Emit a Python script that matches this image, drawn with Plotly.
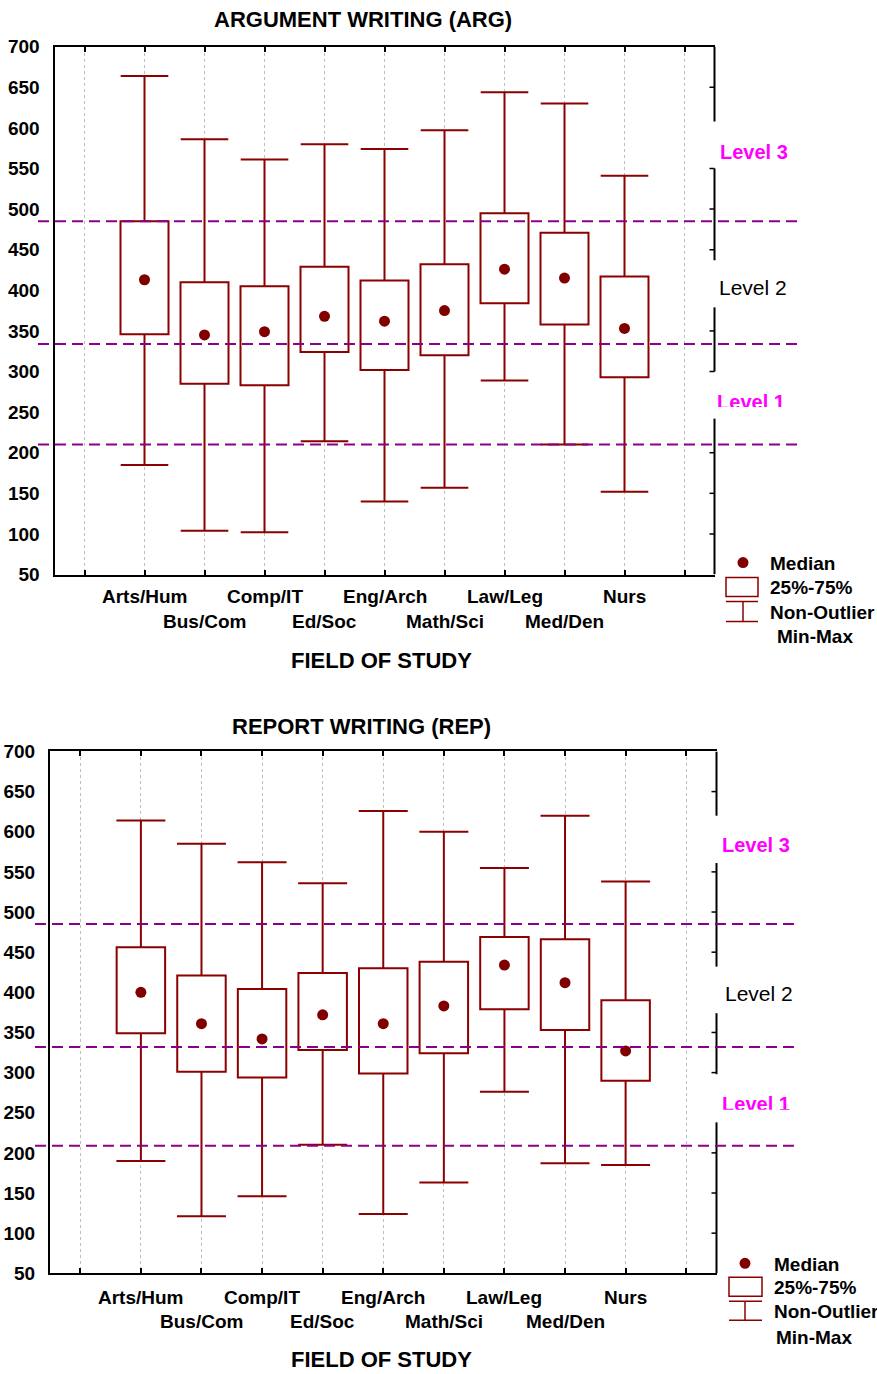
import plotly.graph_objects as go

W, H = 877, 1374

# ---- data -------------------------------------------------------------
fields = ["Arts/Hum", "Bus/Com", "Comp/IT", "Ed/Soc", "Eng/Arch",
          "Math/Sci", "Law/Leg", "Med/Den", "Nurs"]

# Argument writing (ARG)
arg_min = [185, 104, 102, 214, 140, 157, 289, 210, 152]
arg_q1 = [346, 285, 283, 324, 302, 320, 384, 358, 293]
arg_median = [413, 345, 349, 368, 362, 375, 426, 415, 353]
arg_q3 = [485, 410, 405, 429, 412, 432, 495, 471, 417]
arg_max = [664, 586, 561, 580, 574, 597, 644, 630, 541]

# Report writing (REP)
rep_min = [190, 121, 146, 210, 124, 163, 276, 187, 185]
rep_q1 = [349, 301, 294, 328, 299, 324, 379, 353, 290]
rep_median = [400, 361, 342, 372, 361, 383, 434, 412, 327]
rep_q3 = [456, 421, 404, 424, 430, 438, 469, 466, 390]
rep_max = [614, 585, 562, 536, 626, 600, 555, 620, 538]

# Proficiency level cut scores
level_names = ["Level 1", "Level 2", "Level 3"]
arg_levels = [210, 334, 485]
rep_levels = [209, 332, 485]

y_ticks = list(range(50, 701, 50))
legend_labels = ["Median", "25%-75%", "Non-Outlier", "Min-Max"]

# ---- styling ----------------------------------------------------------
RED = "#8B0000"
DOT = "#800000"
PURPLE = "#8B008B"
MAGENTA = "#FF00FF"
FONT = "Liberation Sans, Arial, sans-serif"

# vertical placement helper (page rows -> paper fraction)
V_OFF, V_SCALE = 10.3, 1.0152


def fx(px):
    return px / W


def fy(py):
    return 1 - (py - V_OFF) * V_SCALE / H


positions = [i + 1 for i in range(len(fields))]

panels = [
    dict(key="", title="ARGUMENT WRITING (ARG)",
         lo=arg_min, q1=arg_q1, med=arg_median, q3=arg_q3, hi=arg_max,
         levels=arg_levels,
         xdom=(54.5, 714.5), ydom=(47, 575), title_pos=(363, 20),
         cat_rows=(597, 622), xlab_pos=(381, 661),
         level_pos=[(751, 404), (753, 288), (754, 152)], clip_level1=407.5,
         dash_x=(38, 799), cap=34,
         segments=[(700, 608), (550, 437), (379, 300), (242, 50)],
         legend=dict(dot=(743, 563), box=(726, 758, 578, 597),
                     whisk=(743, 602, 622), tx=768, tx2=775,
                     ty=[564, 588, 613, 637])),
    dict(key="2", title="REPORT WRITING (REP)",
         lo=rep_min, q1=rep_q1, med=rep_median, q3=rep_q3, hi=rep_max,
         levels=rep_levels,
         xdom=(50, 716.5), ydom=(752, 1274), title_pos=(361, 727),
         cat_rows=(1298, 1322), xlab_pos=(381, 1360),
         level_pos=[(756, 1107), (759, 994), (756, 846)], clip_level1=1110.5,
         dash_x=(35, 797), cap=35,
         segments=[(700, 620), (561, 432), (374, 298), (238, 50)],
         legend=dict(dot=(745, 1264), box=(729, 762, 1278, 1297),
                     whisk=(745, 1302, 1321), tx=772, tx2=774,
                     ty=[1265, 1288, 1312, 1338])),
]

fig = go.Figure()
shapes = []
annotations = []
layout_axes = {}

for n, p in enumerate(panels):
    xa, ya = "x" + p["key"], "y" + p["key"]
    xname, yname = "xaxis" + p["key"], "yaxis" + p["key"]

    # 25%-75% boxes
    fig.add_trace(go.Bar(
        x=positions, y=[b - a for a, b in zip(p["q1"], p["q3"])], base=p["q1"],
        width=0.8, marker=dict(color="white", line=dict(color=RED, width=2)),
        xaxis=xa, yaxis=ya, showlegend=False, hoverinfo="skip"))

    # whiskers from box edges to non-outlier min / max
    wx, wy = [], []
    for x, lo, a, b, hi in zip(positions, p["lo"], p["q1"], p["q3"], p["hi"]):
        wx += [x, x, None, x, x, None]
        wy += [b, hi, None, a, lo, None]
    fig.add_trace(go.Scatter(
        x=wx, y=wy, mode="lines", line=dict(color=RED, width=2),
        xaxis=xa, yaxis=ya, showlegend=False, hoverinfo="skip"))

    # whisker caps
    fig.add_trace(go.Scatter(
        x=positions + positions, y=p["lo"] + p["hi"], mode="markers",
        marker=dict(symbol="line-ew", size=p["cap"],
                    line=dict(color=RED, width=2)),
        xaxis=xa, yaxis=ya, showlegend=False, hoverinfo="skip"))

    # medians
    fig.add_trace(go.Scatter(
        x=positions, y=p["med"], mode="markers",
        marker=dict(symbol="circle", size=11, color=DOT),
        xaxis=xa, yaxis=ya, showlegend=False, hoverinfo="skip"))

    x0d, x1d = fx(p["xdom"][0]), fx(p["xdom"][1])
    layout_axes[xname] = dict(
        domain=[x0d, x1d], range=[-0.5, 10.5], anchor=ya,
        tickmode="array", tickvals=list(range(11)), showticklabels=False,
        ticks="inside", ticklen=5, tickwidth=1.5, tickcolor="black",
        showline=True, linecolor="black", linewidth=2, mirror="ticks",
        showgrid=True, gridcolor="#BDBDBD", gridwidth=1, griddash="dot",
        zeroline=False, fixedrange=True)
    layout_axes[yname] = dict(
        domain=[fy(p["ydom"][1]), fy(p["ydom"][0])], range=[50, 700],
        anchor=xa, tickmode="array", tickvals=y_ticks,
        ticktext=[str(v) for v in y_ticks],
        tickfont=dict(family=FONT, size=19, color="black", weight="bold"),
        ticks="", ticklabelstandoff=9,
        showline=True, linecolor="black", linewidth=2, mirror=False,
        showgrid=False, zeroline=False, fixedrange=True)

    # broken right-hand border with inward ticks
    for top, bot in p["segments"]:
        shapes.append(dict(type="line", xref="paper", yref=ya,
                           x0=x1d, x1=x1d, y0=bot, y1=top,
                           line=dict(color="black", width=2)))
        for v in y_ticks:
            if bot <= v <= top and 50 < v < 700:
                shapes.append(dict(type="line", xref="paper", yref=ya,
                                   x0=x1d - fx(5), x1=x1d, y0=v, y1=v,
                                   line=dict(color="black", width=1.5)))

    # level cut-score lines
    for lv in p["levels"]:
        shapes.append(dict(type="line", xref="paper", yref=ya,
                           x0=fx(p["dash_x"][0]), x1=fx(p["dash_x"][1]),
                           y0=lv, y1=lv, layer="above",
                           line=dict(color=PURPLE, width=2, dash="11px,6px")))

    # level labels (Level 2 plain black, Level 3 bold magenta)
    for i, name in enumerate(level_names):
        if i == 0:
            continue
        lx, ly = p["level_pos"][i]
        bold = i == 2
        annotations.append(dict(
            text=name, x=fx(lx), y=fy(ly), xref="paper", yref="paper",
            xanchor="center", yanchor="middle", showarrow=False,
            font=dict(family=FONT, size=21 if not bold else 20,
                      color=MAGENTA if bold else "black",
                      weight="bold" if bold else "normal")))

    # Level 1 label sits in its own small clipped subplot
    cx, cy = p["level_pos"][0]
    cut = p["clip_level1"]
    k3 = str(3 + n)
    layout_axes["xaxis" + k3] = dict(domain=[fx(716), fx(800)], range=[716, 800],
                                     visible=False, anchor="y" + k3, fixedrange=True)
    layout_axes["yaxis" + k3] = dict(domain=[fy(cut), fy(cut - 30)],
                                     range=[-cut, -(cut - 30)],
                                     visible=False, anchor="x" + k3, fixedrange=True)
    fig.add_trace(go.Scatter(
        x=[cx], y=[-cy], mode="text", text=[level_names[0]],
        textposition="middle center", cliponaxis=True,
        textfont=dict(family=FONT, size=20, color=MAGENTA, weight="bold"),
        xaxis="x" + k3, yaxis="y" + k3, showlegend=False, hoverinfo="skip"))

    # panel title and x axis title
    annotations.append(dict(
        text=p["title"], x=fx(p["title_pos"][0]), y=fy(p["title_pos"][1]),
        xref="paper", yref="paper", xanchor="center", yanchor="middle",
        showarrow=False,
        font=dict(family=FONT, size=22, color="black", weight="bold")))
    annotations.append(dict(
        text="FIELD OF STUDY", x=fx(p["xlab_pos"][0]), y=fy(p["xlab_pos"][1]),
        xref="paper", yref="paper", xanchor="center", yanchor="middle",
        showarrow=False,
        font=dict(family=FONT, size=22, color="black", weight="bold")))

    # staggered category labels
    for i, (x, name) in enumerate(zip(positions, fields)):
        annotations.append(dict(
            text=name, x=x, y=fy(p["cat_rows"][i % 2]), xref=xa, yref="paper",
            xanchor="center", yanchor="middle", showarrow=False,
            font=dict(family=FONT, size=19, color="black", weight="bold")))

    # key
    lg = p["legend"]
    dx, dy = lg["dot"]
    shapes.append(dict(type="circle", xref="paper", yref="paper",
                       x0=fx(dx - 5.5), x1=fx(dx + 5.5),
                       y0=fy(dy + 5.5), y1=fy(dy - 5.5),
                       fillcolor=DOT, line=dict(color=DOT, width=0)))
    bx0, bx1, by0, by1 = lg["box"]
    shapes.append(dict(type="rect", xref="paper", yref="paper",
                       x0=fx(bx0), x1=fx(bx1), y0=fy(by1), y1=fy(by0),
                       line=dict(color=RED, width=1.5)))
    wxm, wy0, wy1 = lg["whisk"]
    for yy in (wy0, wy1):
        shapes.append(dict(type="line", xref="paper", yref="paper",
                           x0=fx(bx0), x1=fx(bx1), y0=fy(yy), y1=fy(yy),
                           line=dict(color=RED, width=1.5)))
    shapes.append(dict(type="line", xref="paper", yref="paper",
                       x0=fx(wxm), x1=fx(wxm), y0=fy(wy0), y1=fy(wy1),
                       line=dict(color=RED, width=1.5)))
    for j, lab in enumerate(legend_labels):
        tx = lg["tx2"] if j == 3 else lg["tx"]
        annotations.append(dict(
            text=lab, x=fx(tx), y=fy(lg["ty"][j]), xref="paper", yref="paper",
            xanchor="left", yanchor="middle", showarrow=False,
            font=dict(family=FONT, size=19, color="black", weight="bold")))

fig.update_layout(
    width=W, height=H, margin=dict(l=0, r=0, t=0, b=0),
    paper_bgcolor="white", plot_bgcolor="white",
    showlegend=False, barmode="overlay",
    shapes=shapes, annotations=annotations, **layout_axes)

fig.write_html("out.html")
